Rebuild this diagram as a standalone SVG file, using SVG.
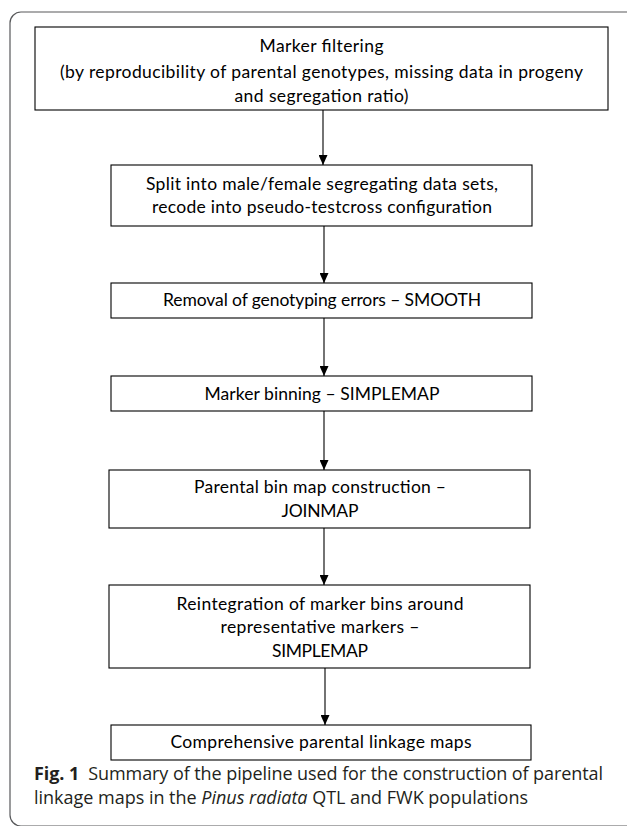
<svg xmlns="http://www.w3.org/2000/svg" width="627" height="826" viewBox="0 0 627 826">
<style>
.box{fill:#fff;stroke:#000;stroke-width:1.1}
.t{font-family:Lato,"Liberation Sans",sans-serif;font-size:17.5px;fill:#000;text-anchor:middle}
.cap{font-family:"Open Sans","Noto Sans",sans-serif;font-size:18px;fill:#231f20}
.edge{stroke:#000;stroke-width:1.1;fill:none;marker-end:url(#ah)}
</style>
<defs>
<marker id="ah" viewBox="0 0 10 10" refX="10" refY="5" markerWidth="10" markerHeight="9" markerUnits="userSpaceOnUse" orient="auto" preserveAspectRatio="none">
<path d="M0,0 L10,5 L0,10 z" fill="#000"/>
</marker>
</defs>
<rect x="10" y="12" width="640" height="814" rx="11" fill="none" stroke="#58595b" stroke-width="1.2"/>
<g id="connectors">
<line class="edge" x1="323" y1="110" x2="323" y2="165"/>
<line class="edge" x1="324" y1="226" x2="324" y2="283"/>
<line class="edge" x1="324" y1="318" x2="324" y2="376"/>
<line class="edge" x1="324" y1="411" x2="324" y2="470"/>
<line class="edge" x1="324" y1="528" x2="324" y2="585"/>
<line class="edge" x1="325" y1="668" x2="325" y2="725"/>
</g>
<g id="n1">
<rect class="box" x="35" y="27" width="573" height="83"/>
<text class="t" x="321.5" y="52" textLength="124">Marker filtering</text>
<text class="t" x="321.5" y="78" textLength="523">(by reproducibility of parental genotypes, missing data in progeny</text>
<text class="t" x="321.5" y="102" textLength="174">and segregation ratio)</text>
</g>
<g id="n2">
<rect class="box" x="111" y="165" width="421" height="61"/>
<text class="t" x="322" y="190" textLength="352">Split into male/female segregating data sets,</text>
<text class="t" x="322" y="213" textLength="340">recode into pseudo-testcross configuration</text>
</g>
<g id="n3">
<rect class="box" x="111" y="283" width="421" height="35"/>
<text class="t" x="322" y="306" textLength="318">Removal of genotyping errors – SMOOTH</text>
</g>
<g id="n4">
<rect class="box" x="111" y="376" width="421" height="35"/>
<text class="t" x="322" y="400" textLength="235">Marker binning – SIMPLEMAP</text>
</g>
<g id="n5">
<rect class="box" x="109" y="470" width="421" height="58"/>
<text class="t" x="320" y="493" textLength="252">Parental bin map construction –</text>
<text class="t" x="320" y="517" textLength="77">JOINMAP</text>
</g>
<g id="n6">
<rect class="box" x="109" y="585" width="421" height="83"/>
<text class="t" x="320" y="610" textLength="287">Reintegration of marker bins around</text>
<text class="t" x="320" y="633" textLength="199">representative markers –</text>
<text class="t" x="320" y="657" textLength="96">SIMPLEMAP</text>
</g>
<g id="n7">
<rect class="box" x="111" y="725" width="420" height="35"/>
<text class="t" x="321" y="748" textLength="301">Comprehensive parental linkage maps</text>
</g>
<g id="caption">
<text class="cap" x="34" y="780" textLength="569"><tspan font-weight="bold">Fig. 1</tspan><tspan dx="9">Summary of the pipeline used for the construction of parental</tspan></text>
<text class="cap" x="34" y="804" textLength="494">linkage maps in the <tspan font-style="italic">Pinus radiata</tspan> QTL and FWK populations</text>
</g>
</svg>
